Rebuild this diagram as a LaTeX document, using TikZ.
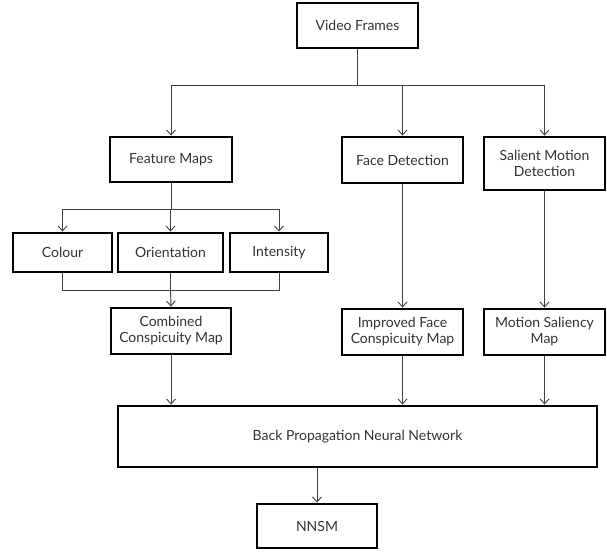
\documentclass[tikz,border=0pt]{standalone}
\usepackage{fontspec}
\setmainfont{Lato}
\usetikzlibrary{arrows.meta,calc}
\begin{document}
\begin{tikzpicture}[x=1pt,y=-1pt,
  box/.style={draw=black,line width=2.9pt,fill=white,align=center,inner sep=1pt,font=\fontsize{14}{16}\selectfont,text=black!80},
  conn/.style={draw=black!75,line width=0.9pt},
  arr/.style={conn,-{Straight Barb[length=5pt,width=9pt,line width=0.9pt]}}]
\useasboundingbox (0,0) rectangle (607,552);
\node[box,minimum width=121pt,minimum height=45pt] (vf) at (357.5,25.5) {Video Frames};
\node[box,minimum width=122pt,minimum height=45pt] (fm) at (171,159.5) {Feature Maps};
\node[box,minimum width=121pt,minimum height=46pt] (fd) at (402.5,160) {Face Detection};
\node[box,minimum width=121pt,minimum height=53pt] (sm) at (544.5,163.5) {Salient Motion\\Detection};
\node[box,minimum width=99pt,minimum height=39pt] (col) at (62.5,252.5) {Colour};
\node[box,minimum width=105pt,minimum height=39pt] (ori) at (170.5,252.5) {Orientation};
\node[box,minimum width=98pt,minimum height=39pt] (int) at (279,252.5) {Intensity};
\node[box,minimum width=120pt,minimum height=46pt] (ccm) at (171,331) {Combined\\Conspicuity Map};
\node[box,minimum width=121pt,minimum height=46pt] (ifc) at (402.5,332) {Improved Face\\Conspicuity Map};
\node[box,minimum width=121pt,minimum height=46pt] (msm) at (544.5,332) {Motion Saliency\\Map};
\node[box,minimum width=479pt,minimum height=61pt] (bp) at (357.5,436.5) {Back Propagation Neural Network};
\node[box,minimum width=120pt,minimum height=44pt] (nn) at (317,526) {NNSM};
% junctions
\coordinate (j1) at (357.5,85);
\coordinate (j1l) at (171,85);
\coordinate (j1r) at (544.5,85);
\coordinate (j2) at (171,209);
\coordinate (j2l) at (62.5,209);
\coordinate (j2r) at (279,209);
\coordinate (j3) at (170.5,290);
\coordinate (j3l) at (62.5,290);
\coordinate (j3r) at (279,290);
\draw[conn] (vf.south) -- (j1);
\draw[conn] (j1l) -- (j1r);
\draw[arr] (j1l) -- (fm.north);
\draw[arr] (j1 -| fd) -- (fd.north);
\draw[arr] (j1r) -- (sm.north);
\draw[conn] (fm.south) -- (j2);
\draw[conn] (j2l) -- (j2r);
\draw[arr] (j2l) -- (col.north);
\draw[arr] (j2 -| ori) -- (ori.north);
\draw[arr] (j2r) -- (int.north);
\draw[conn] (col.south) -- (j3l) -- (j3r) -- (int.south);
\draw[conn] (ori.south) -- (j3);
\draw[arr] (j3) -- (ccm.north);
\draw[arr] (fd.south) -- (ifc.north);
\draw[arr] (sm.south) -- (msm.north);
\draw[arr] (ccm.south) -- (ccm.south |- bp.north);
\draw[arr] (ifc.south) -- (ifc.south |- bp.north);
\draw[arr] (msm.south) -- (msm.south |- bp.north);
\draw[arr] (bp.south -| nn) -- (nn.north);
\end{tikzpicture}
\end{document}
